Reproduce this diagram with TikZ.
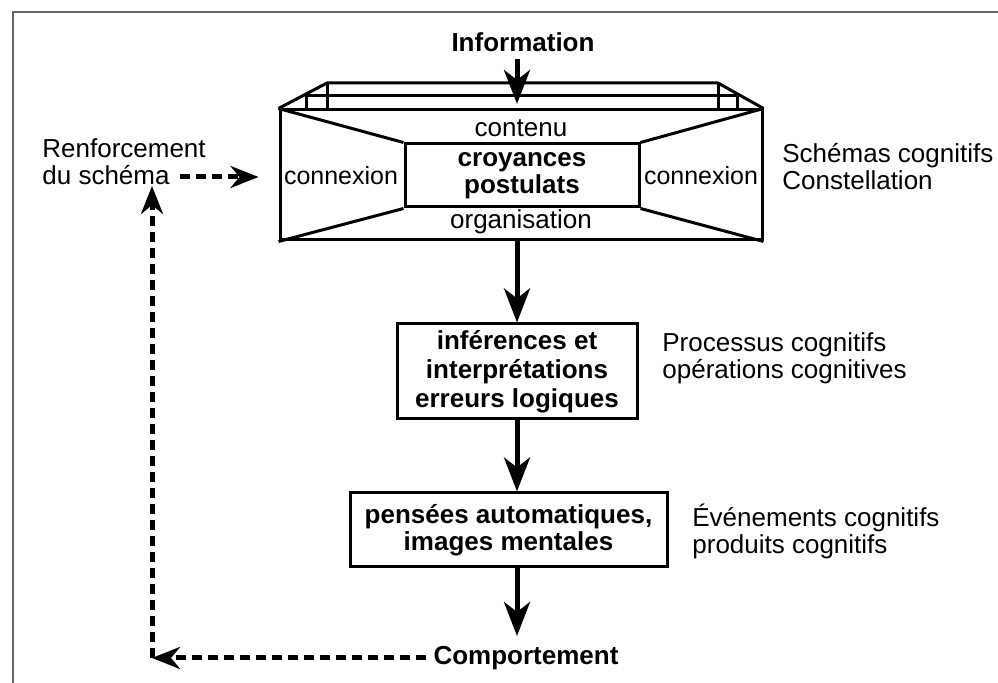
\documentclass[tikz,border=0pt]{standalone}
\usepackage{fontspec}
\setmainfont{Liberation Sans}
\usetikzlibrary{positioning,arrows.meta,calc}

\begin{document}
\begin{tikzpicture}[x=0.5pt,y=-0.5pt,font=\fontsize{13}{13.5}\selectfont,
  flow/.style={line width=2.5pt,-{Stealth[length=17pt,width=13pt,inset=5pt]}},
  retour/.style={line width=2.5pt,dash pattern=on 5pt off 3pt,-{Stealth[length=14pt,width=11pt,inset=4.5pt]}}]
  \tikzset{boite/.style={draw,line width=1.5pt,inner sep=0pt,align=center,font=\bfseries\fontsize{13}{13.5}\selectfont},
    note/.style={anchor=west,align=left,inner sep=0pt}}
  \useasboundingbox (0,0) rectangle (998,683);
  \draw[line width=0.8pt,black!60] (13,683) -- (13,12) -- (998,12);
  \node[font=\bfseries\fontsize{13}{13.5}\selectfont] (info) at (523,42) {Information};
  \node[boite,minimum width=241pt,minimum height=65pt] (schema) at (521,175) {};
  \node[boite,minimum width=117pt,minimum height=31.5pt] (noyau) at (522,175.5) {croyances\\postulats};
  \draw[line width=1.5pt] (schema.north west) -- (noyau.north west) (schema.north east) -- (noyau.north east)
    (schema.south west) -- (noyau.south west) (schema.south east) -- (noyau.south east);
  % couvercle
  \draw[line width=1.5pt,line join=round] (schema.north west) -- (327,83) -- (718,83) -- (schema.north east);
  \draw[line width=1.5pt] (306,96) -- (737,96) (306,96) -- (306,110) (327,83) -- (327,110)
    (718,83) -- (718,110) (737,96) -- (737,110);
  \node (contenu) at (521,128) {contenu};
  \node (orga) at (521,222) {organisation};
  \node[font=\fontsize{12.5}{13}\selectfont] (cxg) at (341,176) {connexion};
  \node[font=\fontsize{12.5}{13}\selectfont] (cxd) at (701,176) {connexion};
  \node[boite,minimum width=120pt,minimum height=47.5pt,font=\bfseries\fontsize{13}{14.5}\selectfont] (infer) at (517,371.5) {inférences et\\interprétations\\erreurs logiques};
  \node[boite,minimum width=158.5pt,minimum height=37pt] (pensees) at (508.5,530) {pensées automatiques,\\images mentales};
  \node[font=\bfseries\fontsize{13}{13.5}\selectfont] (comport) at (526,658) {Comportement};
  \coordinate (fin) at (517,636);
  \coordinate (coin) at (152,658);
  \coordinate (haut) at (152,186);
  \coordinate (renfdep) at (180,177);
  \draw[flow] (info.south -| 517,0) -- (517,104);
  \draw[flow] (517,240) -- (infer.north);
  \draw[flow] (infer.south) -- (infer.south |- pensees.north);
  \draw[flow] (infer.south |- pensees.south) -- (fin);
  \draw[retour] (comport.west) -- (coin);
  \draw[retour] (coin) -- (haut);
  \draw[retour,shorten >=10pt] (renfdep) -- (schema.west |- renfdep);
  \node[note] (renf) at (42,162) {Renforcement\\du schéma};
  \node[note] (schemas) at (782,167) {Schémas cognitifs\\Constellation};
  \node[note] (processus) at (662,358) {Processus cognitifs\\opérations cognitives};
  \node[note] (evenements) at (692,531) {Événements cognitifs\\produits cognitifs};
\end{tikzpicture}
\end{document}
